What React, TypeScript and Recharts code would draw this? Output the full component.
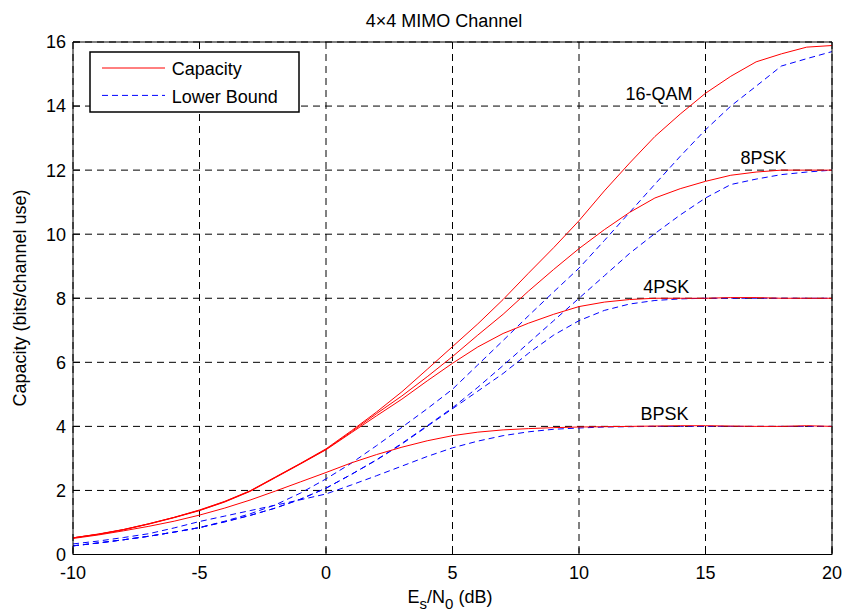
import React from 'react';
import { LineChart, Line, XAxis, YAxis, CartesianGrid, Legend, ReferenceDot } from 'recharts';

const FONT = '"Liberation Sans", Arial, Helvetica, sans-serif';

const snrDb = [-10, -9, -8, -7, -6, -5, -4, -3, -2, -1, 0, 1, 2, 3, 4, 5, 6, 7, 8, 9, 10, 11, 12, 13, 14, 15, 16, 17, 18, 19, 20];

const cap16qam = [0.52, 0.64, 0.78, 0.96, 1.16, 1.39, 1.66, 1.99, 2.42, 2.85, 3.3, 3.86, 4.45, 5.08, 5.78, 6.49, 7.2, 7.96, 8.78, 9.58, 10.42, 11.35, 12.22, 13.05, 13.75, 14.4, 14.93, 15.38, 15.63, 15.84, 15.89];
const cap8psk = [0.52, 0.63, 0.78, 0.96, 1.16, 1.38, 1.65, 1.98, 2.41, 2.84, 3.28, 3.83, 4.4, 4.95, 5.55, 6.18, 6.85, 7.5, 8.22, 8.9, 9.55, 10.14, 10.68, 11.13, 11.42, 11.65, 11.84, 11.94, 12.0, 12.0, 12.0];
const cap4psk = [0.52, 0.63, 0.77, 0.95, 1.15, 1.37, 1.64, 1.97, 2.4, 2.83, 3.27, 3.8, 4.33, 4.85, 5.42, 5.97, 6.48, 6.9, 7.22, 7.5, 7.74, 7.88, 7.96, 8.0, 8.0, 8.0, 8.02, 8.02, 8.0, 8.0, 8.0];
const capBpsk = [0.5, 0.61, 0.74, 0.88, 1.04, 1.23, 1.45, 1.7, 1.98, 2.27, 2.56, 2.86, 3.12, 3.35, 3.55, 3.71, 3.82, 3.89, 3.93, 3.96, 3.98, 3.99, 4.0, 4.01, 4.02, 4.02, 4.01, 4.0, 4.0, 4.02, 4.0];

const lb16qam = [0.27, 0.36, 0.46, 0.57, 0.7, 0.84, 1.04, 1.27, 1.55, 1.92, 2.36, 2.85, 3.4, 3.97, 4.55, 5.16, 5.92, 6.68, 7.45, 8.2, 8.94, 9.8, 10.68, 11.56, 12.43, 13.26, 14.0, 14.62, 15.25, 15.48, 15.7];
const lb8psk = [0.27, 0.36, 0.46, 0.57, 0.7, 0.84, 1.02, 1.22, 1.45, 1.73, 2.07, 2.5, 2.96, 3.47, 4.02, 4.58, 5.22, 5.9, 6.6, 7.3, 8.0, 8.7, 9.4, 10.02, 10.6, 11.13, 11.55, 11.72, 11.86, 11.94, 12.0];
const lb4psk = [0.27, 0.36, 0.46, 0.57, 0.7, 0.84, 1.02, 1.22, 1.45, 1.73, 2.07, 2.5, 2.95, 3.45, 4.0, 4.55, 5.1, 5.65, 6.28, 6.85, 7.3, 7.62, 7.82, 7.93, 7.98, 8.0, 8.0, 8.0, 8.0, 8.0, 8.0];
const lbBpsk = [0.33, 0.42, 0.53, 0.65, 0.83, 1.03, 1.2, 1.37, 1.54, 1.71, 1.89, 2.17, 2.46, 2.76, 3.06, 3.33, 3.54, 3.71, 3.83, 3.91, 3.95, 3.98, 3.99, 4.0, 4.0, 4.0, 4.0, 4.0, 4.0, 4.0, 4.0];

const xTicks = [-10, -5, 0, 5, 10, 15, 20];
const yTicks = [0, 2, 4, 6, 8, 10, 12, 14, 16];

const curveLabels = [
  { text: '16-QAM', x: 13.16, y: 14.4 },
  { text: '8PSK', x: 17.29, y: 12.4 },
  { text: '4PSK', x: 13.45, y: 8.36 },
  { text: 'BPSK', x: 13.38, y: 4.41 },
];

const data = snrDb.map((x, i) => ({
  x,
  cap16qam: cap16qam[i],
  cap8psk: cap8psk[i],
  cap4psk: cap4psk[i],
  capBpsk: capBpsk[i],
  lb16qam: lb16qam[i],
  lb8psk: lb8psk[i],
  lb4psk: lb4psk[i],
  lbBpsk: lbBpsk[i],
}));

const RED = '#ff0000';
const BLUE = '#0000ff';
const DASH = '6 4';

const capKeys = ['cap16qam', 'cap8psk', 'cap4psk', 'capBpsk'];
const lbKeys = ['lb16qam', 'lb8psk', 'lb4psk', 'lbBpsk'];

const LegendBox = () => (
  <svg width={212} height={63} style={{ display: 'block' }}>
    <rect x={1} y={1} width={209} height={60} fill="#fff" stroke="#000" strokeWidth={1.5} />
    <line x1={13} x2={76} y1={17} y2={17} stroke={RED} strokeWidth={1} />
    <text x={82.7} y={24.4} fontSize={18} fontFamily={FONT} fill="#000">Capacity</text>
    <line x1={13} x2={76} y1={44.4} y2={44.4} stroke={BLUE} strokeWidth={1} strokeDasharray={DASH} />
    <text x={82.7} y={52} fontSize={18} fontFamily={FONT} fill="#000">Lower Bound</text>
  </svg>
);

const tickStyle = { fontSize: 18, fontFamily: FONT, fill: '#000' };

export default function App() {
  return (
    <div
      style={{
        position: 'absolute',
        left: 0,
        top: 0,
        width: 856,
        height: 613,
        overflow: 'hidden',
        background: '#fff',
      }}
    >
      <LineChart
        width={856}
        height={613}
        data={data}
        margin={{ top: 41, right: 23, bottom: 18.5, left: 13 }}
        style={{ fontFamily: FONT }}
      >
        <CartesianGrid
          stroke="#000"
          strokeDasharray="7 5"
          strokeWidth={1}
          horizontalValues={yTicks}
          verticalValues={xTicks}
        />
        <XAxis
          dataKey="x"
          type="number"
          domain={[-10, 20]}
          ticks={xTicks}
          allowDataOverflow
          height={40}
          tickSize={-7}
          tickMargin={18.5}
          stroke="#000"
          tick={tickStyle}
          tickLine={{ stroke: '#000' }}
          axisLine={{ stroke: '#000', strokeWidth: 1 }}
          label={{
            content: () => (
              <text x={450} y={603} textAnchor="middle" fontSize={18} fontFamily={FONT} fill="#000">
                E<tspan dy={6} fontSize={15}>s</tspan>
                <tspan dy={-6} fontSize={18}>/N</tspan>
                <tspan dy={6} fontSize={15}>0</tspan>
                <tspan dy={-6} fontSize={18}> (dB)</tspan>
              </text>
            ),
          }}
        />
        <XAxis
          xAxisId="top"
          orientation="top"
          dataKey="x"
          type="number"
          domain={[-10, 20]}
          ticks={xTicks}
          height={1}
          tickSize={-7}
          tick={false}
          stroke="#000"
          axisLine={{ stroke: '#000', strokeWidth: 1 }}
          label={{
            content: () => (
              <text x={444} y={26.7} textAnchor="middle" fontSize={18} fontFamily={FONT} fill="#000">
                4×4 MIMO Channel
              </text>
            ),
          }}
        />
        <YAxis
          type="number"
          domain={[0, 16]}
          ticks={yTicks}
          width={60}
          tickSize={-7}
          tickMargin={14}
          stroke="#000"
          tick={tickStyle}
          tickLine={{ stroke: '#000' }}
          axisLine={{ stroke: '#000', strokeWidth: 1 }}
          label={{
            content: () => (
              <text
                x={26}
                y={298}
                transform="rotate(-90 26 298)"
                textAnchor="middle"
                fontSize={18}
                fontFamily={FONT}
                fill="#000"
              >
                Capacity (bits/channel use)
              </text>
            ),
          }}
        />
        <YAxis
          yAxisId="right"
          orientation="right"
          type="number"
          domain={[0, 16]}
          ticks={yTicks}
          width={1}
          tickSize={-7}
          tick={false}
          stroke="#000"
          axisLine={{ stroke: '#000', strokeWidth: 1 }}
        />
        {lbKeys.map((k) => (
          <Line
            key={k}
            dataKey={k}
            type="linear"
            stroke={BLUE}
            strokeWidth={1}
            strokeDasharray={DASH}
            dot={false}
            activeDot={false}
            isAnimationActive={false}
            legendType="none"
          />
        ))}
        {capKeys.map((k) => (
          <Line
            key={k}
            dataKey={k}
            type="linear"
            stroke={RED}
            strokeWidth={1}
            dot={false}
            activeDot={false}
            isAnimationActive={false}
            legendType="none"
          />
        ))}
        {curveLabels.map((c) => (
          <ReferenceDot
            key={c.text}
            x={c.x}
            y={c.y}
            r={0}
            fill="none"
            stroke="none"
            label={{ value: c.text, position: 'center', fontSize: 18, fontFamily: FONT, fill: '#000' }}
          />
        ))}
        <Legend
          layout="horizontal"
          verticalAlign="middle"
          align="center"
          wrapperStyle={{ position: 'absolute', left: 89, top: 51.3, width: 212, height: 63 }}
          content={() => <LegendBox />}
        />
      </LineChart>
    </div>
  );
}
